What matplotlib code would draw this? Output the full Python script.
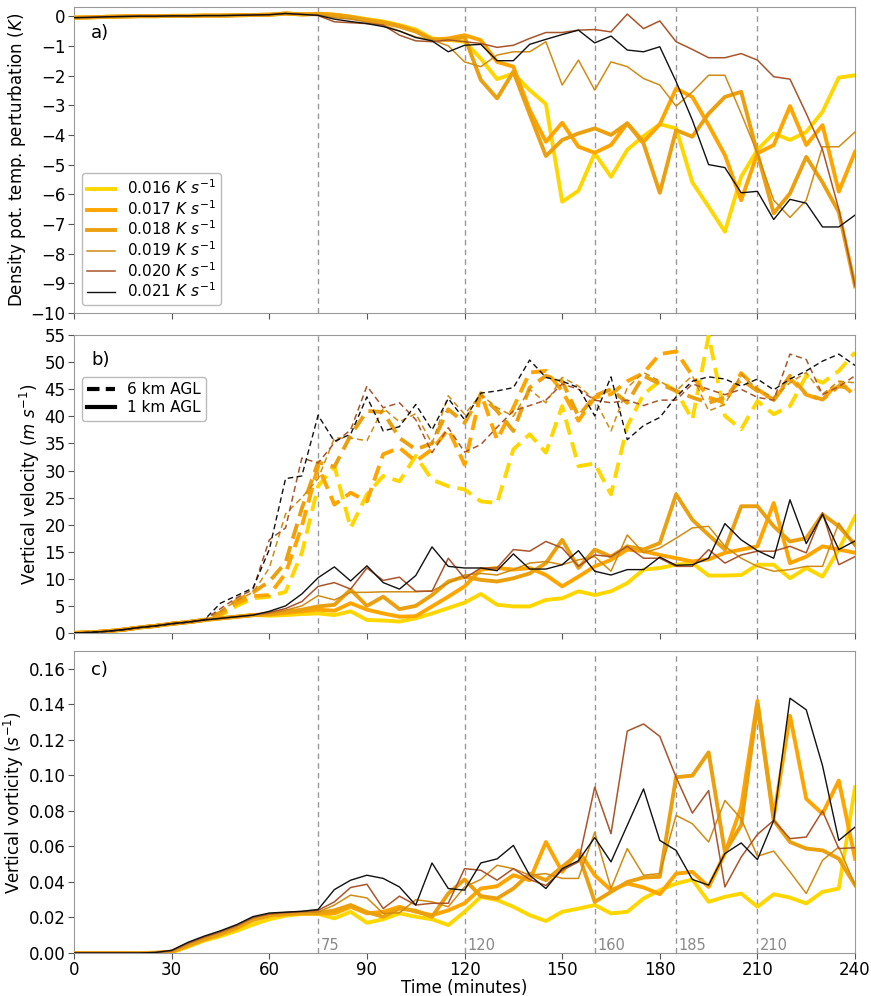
import matplotlib
matplotlib.use("Agg")
import matplotlib.pyplot as plt
import numpy as np

# time axis (minutes), output every 5 min
time = np.arange(0, 245, 5)

rates = ["0.016", "0.017", "0.018", "0.019", "0.020", "0.021"]
colors = ["#FFD700", "#FFA500", "#EBA010", "#D08C12", "#A9552B", "#111111"]
widths = [2.8, 2.8, 2.8, 1.1, 1.1, 1.0]

key_times = [75, 120, 160, 185, 210]

# ---- a) density potential temperature perturbation (K)
a_early = [-0.05, -0.04, -0.02, -0.01, 0.0, 0.0, 0.01, 0.01, 0.02, 0.02, 0.03, 0.04, 0.05, 0.09, 0.06]
a_016 = a_early + [0.08, 0.05, -0.02, -0.1, -0.18, -0.3, -0.45, -0.75,
                   -0.8, -0.86, -1.43, -2.12, -1.93, -2.49, -2.96, -6.25, -5.88, -4.62, -5.41, -4.5, -4.04,
                   -3.64, -3.78, -5.6, -6.42, -7.26, -5.41, -4.5, -3.95, -4.17, -3.9, -3.22, -2.07, -1.99]
a_017 = a_early + [0.08, 0.05, -0.02, -0.12, -0.2, -0.32, -0.5, -0.8,
                   -0.75, -0.64, -0.81, -1.54, -1.7, -3.16, -4.23, -3.59, -4.4, -4.6, -4.34, -3.61, -4.23,
                   -3.64, -2.44, -2.72, -3.67, -4.68, -6.2, -4.62, -4.34, -3.03, -4.34, -3.67, -5.91, -4.57]
a_018 = a_early + [0.07, 0.04, -0.04, -0.13, -0.22, -0.35, -0.52, -0.78,
                   -0.8, -0.7, -2.15, -2.77, -1.87, -3.3, -4.71, -4.17, -3.95, -3.78, -4.0, -3.61, -4.29,
                   -5.95, -3.84, -4.06, -3.28, -2.72, -2.55, -4.62, -6.64, -5.97, -4.74, -5.6, -6.6, -9.1]
a_019 = a_early + [0.05, -0.05, -0.1, -0.2, -0.3, -0.5, -0.7, -0.8,
                   -1.0, -1.54, -1.7, -1.31, -1.2, -1.2, -0.86, -2.32, -1.48, -2.49, -1.54, -1.7, -2.1,
                   -2.32, -3.03, -2.55, -1.99, -1.99, -3.28, -4.62, -6.2, -6.78, -6.2, -4.4, -4.4, -3.9]
a_020 = a_early + [0.02, -0.19, -0.22, -0.25, -0.3, -0.64, -0.83, -0.86,
                   -0.8, -0.86, -0.92, -1.05, -0.98, -0.75, -0.55, -0.55, -0.47, -0.45, -0.53, 0.07, -0.42,
                   -0.16, -0.86, -1.12, -1.4, -1.4, -1.26, -1.48, -2.04, -2.12, -3.28, -4.5, -6.5, -9.1]
a_021 = a_early + [0.03, -0.1, -0.18, -0.25, -0.35, -0.5, -0.72, -0.83,
                   -1.2, -0.98, -0.95, -1.5, -1.5, -0.95, -0.78, -0.62, -0.47, -0.9, -0.67, -1.14, -1.2,
                   -1.03, -2.2, -3.5, -5.0, -5.1, -5.95, -5.9, -6.85, -6.17, -6.3, -7.1, -7.1, -6.7]

# ---- b) vertical velocity (m/s), 1 km AGL (solid)
b1_early = [0, 0.1, 0.3, 0.6, 1.0, 1.3, 1.7, 2.0, 2.4, 2.7, 3.0, 3.3]
b1_016 = b1_early + [3.2, 3.3, 3.5, 3.6, 3.3, 4.0, 2.4, 2.3, 2.1, 2.7, 3.6, 4.6, 5.6, 7.2, 5.2, 4.9, 4.9, 6.1, 6.4,
                     7.7, 7.0, 7.7, 9.2, 11.7, 12.0, 12.6, 12.9, 10.6, 10.6, 10.7, 12.6, 12.6, 10.1, 12.0, 10.4, 15.4, 21.5]
b1_017 = b1_early + [3.4, 3.7, 4.0, 4.3, 4.1, 5.5, 4.3, 3.6, 3.0, 3.1, 4.9, 6.7, 8.6, 11.7, 12.0, 11.7, 12.0, 10.7, 8.6,
                     10.4, 12.3, 13.5, 15.4, 15.1, 14.4, 13.8, 13.2, 13.6, 14.8, 15.4, 16.0, 24.0, 12.9, 14.1, 16.0, 15.4, 14.8]
b1_018 = b1_early + [3.5, 3.9, 4.3, 4.9, 5.2, 8.0, 5.0, 6.7, 4.4, 5.0, 7.0, 9.5, 10.4, 9.8, 9.5, 10.1, 11.0, 12.9, 17.2,
                     12.0, 15.4, 14.1, 16.0, 15.4, 16.6, 25.6, 20.9, 18.1, 15.4, 23.4, 23.4, 19.7, 16.9, 17.5, 21.9, 19.7, 16.3]
b1_019 = b1_early + [3.6, 4.2, 5.0, 6.9, 6.1, 7.5, 7.5, 7.6, 7.6, 7.6, 7.8, 9.2, 10.7, 11.0, 10.7, 11.7, 12.9, 13.2, 12.6,
                     13.5, 14.1, 11.4, 18.1, 14.8, 15.7, 17.5, 19.4, 19.7, 16.0, 13.8, 12.3, 11.4, 11.7, 12.3, 12.3, 20.3, 16.0]
b1_020 = b1_early + [3.8, 4.5, 5.8, 8.6, 9.3, 8.1, 12.0, 9.7, 10.3, 7.7, 7.7, 13.8, 10.1, 12.0, 12.0, 15.4, 15.1, 16.9, 15.7,
                     12.3, 14.4, 14.1, 16.0, 13.8, 13.8, 12.3, 12.3, 15.4, 12.9, 14.4, 15.1, 15.1, 16.0, 14.8, 22.2, 12.6, 14.1]
b1_021 = b1_early + [4.0, 5.0, 7.2, 10.2, 12.2, 9.6, 12.4, 9.3, 8.1, 10.6, 15.9, 12.3, 12.0, 12.0, 11.5, 14.6, 11.8, 11.8, 12.6,
                     15.2, 11.4, 10.7, 11.7, 11.7, 14.0, 12.5, 12.6, 13.8, 20.2, 17.2, 15.2, 13.8, 24.6, 16.5, 21.9, 15.4, 17.0]

# 6 km AGL (dashed)
b6_early = [0, 0.1, 0.3, 0.6, 1.0, 1.3, 1.7, 2.0, 2.4]
b6_016 = b6_early + [3.2, 5.0, 6.4, 6.7, 7.6, 14.8, 27.1, 30.8, 19.4, 25.6, 29.0, 28.0, 32.7, 28.3, 27.1, 26.5, 24.3, 24.0,
                     33.9, 36.7, 33.3, 41.9, 30.8, 31.3, 25.6, 38.2, 44.1, 46.5, 44.7, 39.4, 54.9, 40.1, 37.6, 42.8, 40.4,
                     41.9, 47.5, 46.2, 48.4, 51.8]
b6_017 = b6_early + [3.5, 5.5, 6.8, 7.0, 11.0, 19.7, 30.8, 23.7, 25.9, 24.3, 33.0, 34.2, 31.7, 33.9, 37.6, 31.1, 44.3, 35.7,
                     41.6, 48.1, 48.4, 44.7, 39.2, 43.5, 44.1, 46.5, 48.0, 51.5, 52.0, 47.5, 43.5, 42.5, 48.0, 45.0, 43.0,
                     47.0, 44.0, 43.0, 46.5, 43.8]
b6_018 = b6_early + [3.8, 6.0, 7.5, 9.5, 13.0, 23.0, 31.5, 30.7, 36.5, 41.0, 40.8, 36.0, 33.9, 35.0, 41.3, 38.8, 44.0, 41.0,
                     37.3, 45.3, 47.5, 46.5, 40.0, 43.8, 45.0, 42.5, 47.5, 46.0, 44.7, 43.5, 42.5, 43.5, 46.8, 44.7, 43.1,
                     47.5, 44.1, 43.1, 45.6, 45.0]
b6_019 = b6_early + [4.0, 6.0, 7.5, 12.0, 22.0, 25.0, 28.5, 36.0, 36.0, 35.5, 41.5, 39.0, 40.5, 35.0, 43.8, 40.4, 44.0, 41.6,
                     40.0, 45.0, 42.5, 47.2, 45.6, 43.1, 37.3, 45.3, 48.1, 46.5, 44.7, 47.5, 41.0, 42.2, 47.8, 45.0, 43.5,
                     46.2, 48.1, 44.1, 46.5, 46.2]
b6_020 = b6_early + [4.5, 6.5, 8.0, 17.2, 19.4, 32.3, 31.4, 35.1, 37.5, 45.6, 41.6, 42.5, 39.4, 33.3, 37.9, 33.4, 34.8, 38.0,
                     41.0, 42.0, 43.0, 46.0, 45.0, 43.0, 42.5, 43.0, 42.0, 43.0, 43.0, 46.0, 45.0, 44.0, 45.0, 43.5, 43.0,
                     51.5, 50.5, 44.0, 45.5, 47.5]
b6_021 = b6_early + [5.5, 6.9, 8.3, 15.4, 28.5, 29.0, 40.2, 35.4, 36.7, 43.6, 37.3, 38.1, 42.2, 37.5, 43.3, 39.4, 44.3, 44.7,
                     45.3, 50.4, 47.2, 46.5, 45.3, 40.1, 47.3, 35.7, 38.3, 39.8, 43.6, 46.5, 47.3, 46.9, 45.6, 46.9, 44.9,
                     46.9, 48.4, 50.2, 51.5, 49.4]

# ---- c) vertical vorticity (1/s)
c_016 = [0, 0, 0, 0, 0, 0, 0.0004, 0.0035, 0.007, 0.0095, 0.0125, 0.016, 0.019, 0.021, 0.022,
         0.022, 0.0195, 0.0232, 0.017, 0.019, 0.0223, 0.0204, 0.019, 0.0157, 0.0232, 0.0316, 0.0298, 0.026, 0.0213,
         0.018, 0.0232, 0.025, 0.027, 0.0223, 0.0232, 0.0307, 0.0354, 0.0391, 0.0414, 0.0288, 0.0316, 0.0335, 0.026,
         0.0331, 0.0312, 0.0279, 0.0344, 0.0363, 0.0934]
c_017 = [0, 0, 0, 0, 0, 0.0001, 0.0006, 0.004, 0.0075, 0.0105, 0.014, 0.0185, 0.021, 0.0218, 0.0222,
         0.0222, 0.0223, 0.026, 0.0223, 0.0232, 0.026, 0.0232, 0.0213, 0.024, 0.028, 0.0363, 0.0376, 0.0438, 0.041,
         0.0625, 0.0457, 0.0578, 0.0438, 0.0354, 0.0391, 0.0369, 0.0331, 0.0447, 0.0457, 0.0372, 0.056, 0.0822, 0.142,
         0.0765, 0.1336, 0.0868, 0.0784, 0.0971, 0.0531]
c_018 = [0, 0, 0, 0, 0, 0.0001, 0.0008, 0.0045, 0.008, 0.011, 0.0145, 0.019, 0.0213, 0.022, 0.0225,
         0.0225, 0.024, 0.027, 0.023, 0.0204, 0.025, 0.0238, 0.0204, 0.0335, 0.0414, 0.032, 0.0307, 0.0363, 0.0447,
         0.041, 0.0485, 0.056, 0.0288, 0.0344, 0.040, 0.0425, 0.0429, 0.099, 0.0999, 0.113, 0.0569, 0.0719, 0.140,
         0.0747, 0.0625, 0.0588, 0.0578, 0.0531, 0.0382]
c_019 = [0, 0, 0, 0, 0, 0.0002, 0.001, 0.005, 0.0085, 0.0115, 0.015, 0.0195, 0.0218, 0.0225, 0.023,
         0.023, 0.027, 0.0326, 0.031, 0.0223, 0.0226, 0.030, 0.0288, 0.026, 0.0372, 0.0414, 0.0494, 0.0475, 0.0438,
         0.0447, 0.042, 0.042, 0.068, 0.0363, 0.0588, 0.0438, 0.0447, 0.0775, 0.0728, 0.0625, 0.0859, 0.0756, 0.0545,
         0.0574, 0.0457, 0.0335, 0.0522, 0.0597, 0.0382]
c_020 = [0, 0, 0, 0, 0, 0.0002, 0.0012, 0.0055, 0.009, 0.012, 0.0155, 0.02, 0.022, 0.0228, 0.0233,
         0.024, 0.0288, 0.0369, 0.0387, 0.025, 0.032, 0.027, 0.028, 0.028, 0.0475, 0.0466, 0.041, 0.0475, 0.0414,
         0.038, 0.0466, 0.0513, 0.0934, 0.0672, 0.125, 0.129, 0.122, 0.099, 0.0788, 0.0915, 0.0372, 0.054, 0.0668,
         0.0747, 0.0644, 0.0653, 0.080, 0.0588, 0.0593]
c_021 = [0, 0, 0, 0, 0, 0.0003, 0.0015, 0.006, 0.0095, 0.0125, 0.016, 0.0205, 0.0225, 0.023, 0.0235,
         0.0245, 0.0357, 0.041, 0.0438, 0.042, 0.0372, 0.027, 0.0507, 0.0363, 0.0354, 0.0507, 0.053, 0.0606, 0.0438,
         0.0363, 0.0475, 0.052, 0.065, 0.0513, 0.0719, 0.0924, 0.0634, 0.0578, 0.0414, 0.0382, 0.056, 0.062, 0.0526,
         0.0747, 0.1435, 0.137, 0.1055, 0.0634, 0.0709]

theta = [a_016, a_017, a_018, a_019, a_020, a_021]
w1 = [b1_016, b1_017, b1_018, b1_019, b1_020, b1_021]
w6 = [b6_016, b6_017, b6_018, b6_019, b6_020, b6_021]
zeta = [c_016, c_017, c_018, c_019, c_020, c_021]

plt.rcParams['font.family'] = ['DejaVu Sans']
fig = plt.figure(figsize=(8.71, 9.96), dpi=100)
left, width = 0.085, 0.8967
ax1 = fig.add_axes([left, 0.6857, width, 0.307])
ax2 = fig.add_axes([left, 0.3645, width, 0.299])
ax3 = fig.add_axes([left, 0.0432, width, 0.303])

for ax in (ax1, ax2, ax3):
    for t in key_times:
        ax.axvline(t, color="#999999", lw=1.0, ls=(0, (4, 3)), zorder=1)
    ax.set_xlim(0, 240)
    ax.set_xticks(np.arange(0, 241, 30))
    for s in ax.spines.values():
        s.set_color("#999999")
    ax.tick_params(labelsize=12, color="#555555", length=4, pad=2)

for i in range(6):
    ax1.plot(time, theta[i], color=colors[i], lw=widths[i], label=rates[i] + r" $K\ s^{-1}$", zorder=3)
    ax2.plot(time, w6[i], color=colors[i], lw=widths[i], ls=(0, (4, 2)) if widths[i] > 2 else (0, (4, 2.5)), zorder=3)
    ax2.plot(time, w1[i], color=colors[i], lw=widths[i], zorder=3)
    ax3.plot(time, zeta[i], color=colors[i], lw=widths[i], zorder=3)

ax1.set_ylim(-10, 0.3)
ax1.set_yticks(np.arange(-10, 1, 1))
ax1.set_xticklabels([])
ax1.set_ylabel(r"Density pot. temp. perturbation ($K$)", fontsize=12, labelpad=2)
ax1.legend(loc="lower left", fontsize=11, framealpha=1, edgecolor="#bbbbbb", handlelength=1.8,
           labelspacing=0.12, borderpad=0.35)
ax1.text(0.022, 0.90, "a)", transform=ax1.transAxes, fontsize=13)

ax2.set_ylim(0, 55)
ax2.set_yticks(np.arange(0, 56, 5))
ax2.set_xticklabels([])
ax2.set_ylabel(r"Vertical velocity ($m\ s^{-1}$)", fontsize=12, labelpad=2)
h6, = ax2.plot([], [], color="black", lw=3, ls=(0, (3, 1.5)))
h1, = ax2.plot([], [], color="black", lw=3)
ax2.legend([h6, h1], ["6 km AGL", "1 km AGL"], loc="upper left", bbox_to_anchor=(0.0, 0.885),
           fontsize=11, framealpha=1, edgecolor="#bbbbbb", handlelength=1.8, labelspacing=0.2, borderpad=0.35)
ax2.text(0.022, 0.90, "b)", transform=ax2.transAxes, fontsize=13)

ax3.set_ylim(0, 0.17)
ax3.set_yticks(np.arange(0, 0.161, 0.02))
ax3.set_yticklabels(["%.2f" % v for v in np.arange(0, 0.161, 0.02)])
ax3.set_ylabel(r"Vertical vorticity ($s^{-1}$)", fontsize=12, labelpad=2)
ax3.set_xlabel("Time (minutes)", fontsize=12, labelpad=0)
ax3.text(0.022, 0.92, "c)", transform=ax3.transAxes, fontsize=13)
for t in key_times:
    ax3.text(t + 0.8, 0.0015, str(t), color="#888888", fontsize=10.5)

fig.savefig("out.png", dpi=100)
